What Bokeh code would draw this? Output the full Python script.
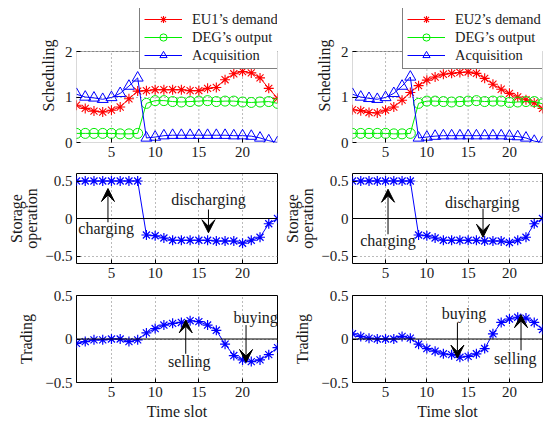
from bokeh.plotting import figure
from bokeh.layouts import row, column
from bokeh.models import (Range1d, Span, Label, Arrow, VeeHead, Legend, LegendItem,
                          FixedTicker, BoxAnnotation)
from bokeh.embed import file_html
from bokeh.resources import INLINE

slots = list(range(1, 25))

eu1_demand = [0.82, 0.75, 0.69, 0.67, 0.71, 0.78, 0.96, 1.13, 1.14, 1.16, 1.16, 1.16,
              1.16, 1.14, 1.14, 1.19, 1.21, 1.38, 1.51, 1.56, 1.53, 1.42, 1.19, 0.97]
eu1_deg = [0.20, 0.20, 0.20, 0.20, 0.20, 0.19, 0.19, 0.20, 0.86, 0.92, 0.92, 0.90,
           0.89, 0.90, 0.91, 0.92, 0.90, 0.91, 0.91, 0.89, 0.88, 0.89, 0.90, 0.86]
eu1_acq = [1.06, 1.00, 0.98, 0.95, 0.99, 1.08, 1.24, 1.42, 0.10, 0.12, 0.15, 0.16,
           0.16, 0.16, 0.16, 0.16, 0.16, 0.16, 0.15, 0.15, 0.14, 0.10, 0.04, 0.00]

eu2_demand = [0.72, 0.70, 0.66, 0.65, 0.71, 0.78, 0.93, 1.10, 1.25, 1.37, 1.44, 1.50,
              1.52, 1.54, 1.55, 1.52, 1.41, 1.28, 1.17, 1.08, 1.00, 0.94, 0.87, 0.75]
eu2_deg = [0.20, 0.20, 0.20, 0.20, 0.20, 0.19, 0.19, 0.20, 0.86, 0.91, 0.91, 0.90,
           0.89, 0.90, 0.91, 0.92, 0.90, 0.91, 0.91, 0.88, 0.89, 0.90, 0.90, 0.85]
eu2_acq = [1.06, 1.00, 0.97, 0.95, 0.99, 1.08, 1.24, 1.44, 0.10, 0.12, 0.14, 0.15,
           0.15, 0.15, 0.15, 0.15, 0.15, 0.15, 0.15, 0.14, 0.13, 0.10, 0.03, 0.00]

storage1 = [0.5, 0.5, 0.5, 0.5, 0.5, 0.5, 0.5, 0.5, -0.22, -0.23, -0.26, -0.29,
            -0.29, -0.29, -0.29, -0.29, -0.30, -0.30, -0.30, -0.33, -0.29, -0.25, -0.07, 0.0]
storage2 = [0.5, 0.5, 0.5, 0.5, 0.5, 0.5, 0.5, 0.5, -0.22, -0.23, -0.26, -0.29,
            -0.29, -0.29, -0.29, -0.29, -0.30, -0.30, -0.30, -0.32, -0.29, -0.25, -0.07, 0.0]

trading1 = [-0.05, -0.03, -0.01, -0.01, 0.0, 0.0, -0.03, -0.01, 0.07, 0.12, 0.16, 0.18,
            0.19, 0.21, 0.20, 0.16, 0.10, -0.06, -0.19, -0.24, -0.26, -0.24, -0.18, -0.10]
trading2 = [0.06, 0.03, 0.01, 0.0, 0.0, 0.0, 0.03, 0.01, -0.06, -0.11, -0.14, -0.17,
            -0.18, -0.21, -0.20, -0.17, -0.11, 0.06, 0.19, 0.23, 0.25, 0.24, 0.19, 0.11]

x_ticks = [5, 10, 15, 20]
sched_ticks = [0, 1, 2]
pm_ticks = [-0.5, 0, 0.5]
pm_labels = {-0.5: "\u22120.5", 0: "0", 0.5: "0.5"}

FONT = "Liberation Serif"
TXT = "#1a1a1a"


def make_fig(width, height, bl, br, bt, bb, yr, yticks, ylabel, xlabel=None,
             ylabel_standoff=5, zero_line=False, ylabels=None, box=None):
    p = figure(width=width, height=height, output_backend="svg", toolbar_location=None,
               x_range=Range1d(slots[0], slots[-1]), y_range=Range1d(*yr),
               min_border_left=bl, min_border_right=br, min_border_top=bt,
               min_border_bottom=bb, background_fill_color="white",
               border_fill_color="white")
    for ax in (p.xaxis[0], p.yaxis[0]):
        ax.axis_line_color = None
        ax.major_tick_in = 4
        ax.major_tick_out = 0
        ax.minor_tick_line_color = None
        ax.major_tick_line_color = "black"
        ax.major_label_text_font = FONT
        ax.major_label_text_font_size = "15px"
        ax.major_label_text_color = TXT
        ax.axis_label_text_font = FONT
        ax.axis_label_text_font_size = "16px"
        ax.axis_label_text_font_style = "normal"
        ax.axis_label_text_color = TXT
        ax.axis_label_text_line_height = 0.9
    p.xaxis.ticker = FixedTicker(ticks=x_ticks)
    p.yaxis.ticker = FixedTicker(ticks=yticks)
    if ylabels:
        p.yaxis.major_label_overrides = ylabels
    p.xaxis.major_label_standoff = 4
    p.yaxis.major_label_standoff = 4
    p.yaxis.axis_label = ylabel
    p.yaxis.axis_label_standoff = ylabel_standoff
    if xlabel:
        p.xaxis.axis_label = xlabel
        p.xaxis.axis_label_standoff = 3
    p.ygrid.grid_line_color = "#777777"
    p.ygrid.grid_line_dash = "1 3"
    if box is None:
        p.outline_line_color = "black"
        p.xgrid.grid_line_color = "#777777"
        p.xgrid.grid_line_dash = "1 3"
    else:
        # frame taller than the visible box (room for the legend); draw the box itself
        b0, b1 = box
        p.outline_line_color = None
        p.xgrid.visible = False
        p.yaxis.bounds = (b0, b1)
        p.segment(x0=x_ticks, y0=[b0] * len(x_ticks), x1=x_ticks, y1=[b1] * len(x_ticks),
                  line_color="#777777", line_dash="1 3", line_width=1)
        p.add_layout(BoxAnnotation(left=slots[0], right=slots[-1], bottom=b0, top=b1,
                                   fill_color=None, line_color="black", line_width=1,
                                   level="overlay"))
    if zero_line:
        p.add_layout(Span(location=0, dimension="width", line_color="black", line_width=1))
    return p


def sched(p, demand, deg, acq, name, loc, label_width):
    r1 = p.line(slots, demand, line_color="red", line_width=1)
    m1 = p.scatter(slots, demand, marker="asterisk", size=10, line_color="red", line_width=1.1)
    r2 = p.line(slots, deg, line_color="#00ee00", line_width=1)
    m2 = p.scatter(slots, deg, marker="circle", size=10, line_color="#00ee00",
                   fill_color=None, line_width=1)
    r3 = p.line(slots, acq, line_color="blue", line_width=1)
    m3 = p.scatter(slots, acq, marker="triangle", size=11, line_color="blue",
                   fill_color=None, line_width=1)
    leg = Legend(items=[LegendItem(label=name, renderers=[r1, m1]),
                        LegendItem(label="DEG\u2019s output", renderers=[r2, m2]),
                        LegendItem(label="Acquisition", renderers=[r3, m3])],
                 location=loc, orientation="vertical")
    leg.label_text_font = FONT
    leg.label_text_font_size = "14.5px"
    leg.label_text_color = TXT
    leg.border_line_color = "black"
    leg.border_line_width = 1
    leg.background_fill_alpha = 1
    leg.padding = 4
    leg.spacing = 0
    leg.margin = 0
    leg.glyph_width = 38
    leg.glyph_height = 18
    leg.label_height = 18
    leg.label_width = label_width
    leg.label_standoff = 10
    p.add_layout(leg, "center")


def series(p, y):
    p.line(slots, y, line_color="blue", line_width=1)
    p.scatter(slots, y, marker="asterisk", size=10, line_color="blue", line_width=1.2)


def annot(p, text, tx, ty, ax, ay0, ay1):
    p.add_layout(Label(x=tx, y=ty, text=text, text_font=FONT, text_font_size="16px",
                       text_color=TXT, text_align="center", text_baseline="middle"))
    p.add_layout(Arrow(x_start=ax, y_start=ay0, x_end=ax, y_end=ay1,
                       line_color="black", line_width=1,
                       end=VeeHead(size=13, fill_color="black", line_color="black")))


# top panels: frame spans y=8..142 px, data 0..2 spans 51..142 px
top_max = 2 * 134 / 91
LB, RB = 76, 64

# ---- left column ----
tl = make_fig(280, 164, LB, 3, 8, 22, (0, top_max), sched_ticks, "Scheduling",
              ylabel_standoff=5, box=(sched_ticks[0], sched_ticks[-1]))
sched(tl, eu1_demand, eu1_deg, eu1_acq, "EU1\u2019s demand", (63, 73), 84)

ml = make_fig(280, 121, LB, 3, 9, 22, (-0.6, 0.6), pm_ticks, "Storage\noperation",
              ylabel_standoff=2, zero_line=True, ylabels=pm_labels)
series(ml, storage1)
annot(ml, "charging", 4.4, -0.13, 4.6, -0.05, 0.4)
annot(ml, "discharging", 16.1, 0.25, 16.1, 0.12, -0.19)

bl_ = make_fig(280, 138, LB, 3, 10, 41, (-0.5, 0.5), pm_ticks, "Trading", xlabel="Time slot",
               ylabel_standoff=7, zero_line=True, ylabels=pm_labels)
series(bl_, trading1)
annot(bl_, "selling", 13.9, -0.26, 13.5, -0.17, 0.22)
annot(bl_, "buying", 21.5, 0.25, 20.4, 0.16, -0.27)

# ---- right column ----
tr = make_fig(264, 164, RB, 2, 8, 22, (0, top_max), sched_ticks, "Scheduling",
              ylabel_standoff=5, box=(sched_ticks[0], sched_ticks[-1]))
sched(tr, eu2_demand, eu2_deg, eu2_acq, "EU2\u2019s demand", (50, 73), 92)

mr = make_fig(264, 121, RB, 2, 9, 22, (-0.6, 0.6), pm_ticks, "Storage\noperation",
              ylabel_standoff=2, zero_line=True, ylabels=pm_labels)
series(mr, storage2)
annot(mr, "charging", 5.3, -0.29, 5.3, -0.21, 0.39)
annot(mr, "discharging", 16.7, 0.22, 16.8, 0.13, -0.25)

br_ = make_fig(264, 138, RB, 2, 10, 41, (-0.5, 0.5), pm_ticks, "Trading", xlabel="Time slot",
               ylabel_standoff=7, zero_line=True, ylabels=pm_labels)
series(br_, trading2)
annot(br_, "buying", 14.5, 0.29, 13.7, 0.19, -0.22)
annot(br_, "selling", 20.7, -0.22, 21.4, -0.13, 0.28)

layout = row(column(tl, ml, bl_), column(tr, mr, br_))

open("out.html", "w").write(file_html(layout, INLINE))
